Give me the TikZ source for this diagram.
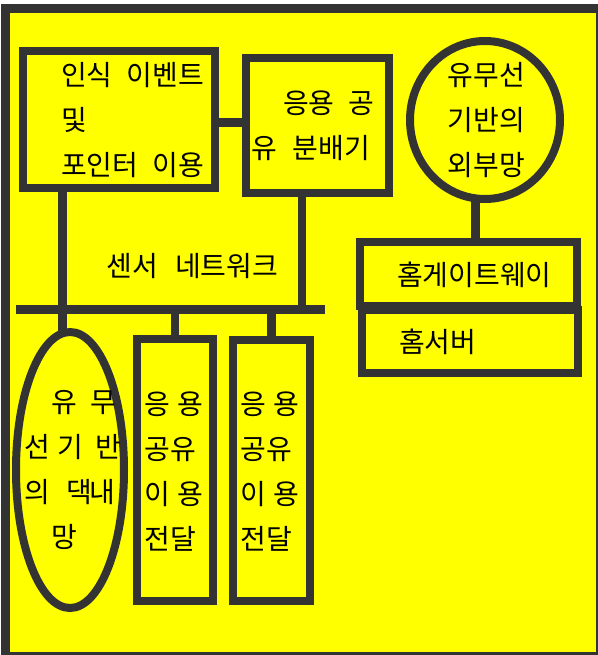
\documentclass[tikz,border=0pt]{standalone}
\usepackage{fontspec}
\newfontfamily\kr{Noto Sans CJK KR}
\usetikzlibrary{shapes.geometric}
\definecolor{frame}{HTML}{333333}
\definecolor{bg}{HTML}{FFFF00}
\newcommand\gp{\hspace{14pt}}
\begin{document}
\begin{tikzpicture}[x=1pt,y=-1pt,
  shp/.style={draw=frame, line width=8pt, fill=bg, inner sep=0pt, outer sep=0pt},
  box/.style={shp, rectangle},
  oval/.style={shp, ellipse},
  wire/.style={draw=frame, line width=8.5pt},
  txt/.style={font=\kr\fontsize{28pt}{45pt}\selectfont, inner sep=0pt, outer sep=0pt, text=black, anchor=west, align=left}]
\useasboundingbox (0,0) rectangle (597,655);
\fill[white] (0,0) rectangle (597,655);
\draw[draw=frame, fill=bg, line width=9pt] (5.5,8.5) rectangle (600,656);
% shapes
\node[box, minimum width=192pt, minimum height=136.5pt] (A) at (119,119.75) {};
\node[box, minimum width=143pt, minimum height=134.5pt] (B) at (317.5,125.25) {};
\node[oval, minimum width=150pt, minimum height=158pt] (C) at (485,120) {};
\node[box, minimum width=216.5pt, minimum height=64pt] (D) at (468.25,274) {};
\node[box, minimum width=215.5pt, minimum height=63pt] (E) at (469.75,341.5) {};
\node[oval, minimum width=108pt, minimum height=276pt] (F) at (70,470) {};
\node[box, minimum width=76pt, minimum height=262pt] (G) at (175,470) {};
\node[box, minimum width=77pt, minimum height=261pt] (H) at (271.5,470.5) {};
% connectors
\coordinate (busL) at (16,309.5);
\coordinate (busR) at (325,309.5);
\coordinate (xa) at (62.5,0);
\coordinate (yab) at (0,122.5);
\coordinate (xb) at (302,0);
\coordinate (xc) at (475.5,0);
\draw[wire] (busL) -- (busR);
\draw[wire] (A.south -| xa) -- (F.north -| xa);
\draw[wire] (A.east |- yab) -- (B.west |- yab);
\draw[wire] (B.south -| xb) -- (busR -| xb);
\draw[wire] (C.south -| xc) -- (D.north -| xc);
\draw[wire] (G.north) -- (G.north |- busL);
\draw[wire] (H.north) -- (H.north |- busL);
% texts
\node[txt] (tA) at (61,120) {인식\gp 이벤트\\및\\포인터\gp 이용};
\node[txt] (tB) at (251,126) {\hspace*{32pt}응용\hspace{14.5pt}공\\유\hspace{16pt}분배기};
\node[txt, anchor=center, align=center] (tC) at (486.5,120) {유무선\\기반의\\외부망};
\node[txt] (tS) at (106.5,266.5) {센서\hspace{17pt}네트워크};
\node[txt] (tD) at (397,274.5) {홈게이트웨이};
\node[txt] (tE) at (399,341.5) {홈서버};
\node[txt] (tF) at (24,470) {\hspace*{27pt}유\hspace{13.5pt}무\\선\hspace{8pt}기\hspace{11.5pt}반\\의\hspace{16.5pt}댁\hspace{-3pt}내\\\hspace*{27pt}망};
\node[txt] (tG) at (144.5,471.5) {응\hspace{7pt}용\\공유\\이\hspace{7pt}용\\전달};
\node[txt] (tH) at (240.5,471.5) {응\hspace{7pt}용\\공유\\이\hspace{7pt}용\\전달};
\end{tikzpicture}
\end{document}
